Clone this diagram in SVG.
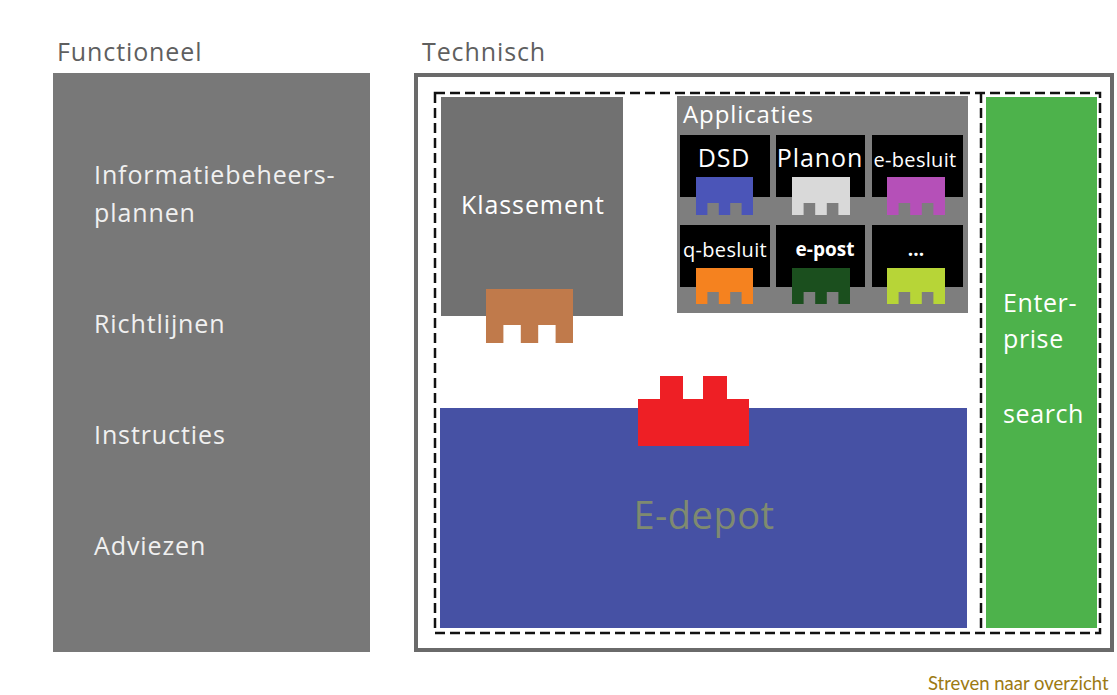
<svg xmlns="http://www.w3.org/2000/svg" width="1117" height="695" viewBox="0 0 1117 695">
<style>
text{font-family:"Open Sans","DejaVu Sans",sans-serif}
.hdr{fill:#5f5f5f;font-size:25px;letter-spacing:0.9px}
.lbl{fill:#f0f0f0;font-size:25px;letter-spacing:0.9px}
.app{fill:#ffffff;font-size:25px;letter-spacing:0.9px;text-anchor:middle}
.sm{fill:#ffffff;font-size:20px;letter-spacing:0.3px;text-anchor:middle}
.smb{fill:#ffffff;font-size:19px;font-weight:bold;text-anchor:middle}
.tile{fill:#000000}
.dash{fill:none;stroke:#111111;stroke-width:2.5;stroke-dasharray:10 5}
</style>
<rect width="1117" height="695" fill="#ffffff"/>

<g id="functioneel">
  <text class="hdr" x="57" y="61">Functioneel</text>
  <rect x="53" y="73" width="317" height="579" fill="#787878"/>
  <text class="lbl" x="94" y="184">Informatiebeheers-</text>
  <text class="lbl" x="94" y="222">plannen</text>
  <text class="lbl" x="94" y="333">Richtlijnen</text>
  <text class="lbl" x="94" y="444">Instructies</text>
  <text class="lbl" x="94" y="555">Adviezen</text>
</g>

<g id="technisch">
  <text class="hdr" x="422" y="61">Technisch</text>
  <rect x="416" y="75" width="696" height="575" fill="#ffffff" stroke="#6a6a6a" stroke-width="4"/>
</g>

<g id="klassement">
  <rect x="441" y="97" width="182" height="219" fill="#717171"/>
  <text class="app" x="533" y="214">Klassement</text>
  <path d="M486 289h87v54h-17.4v-18h-17.4v18h-17.4v-18h-17.4v18h-17.4z" fill="#c07a4b"/>
</g>

<g id="applicaties">
  <rect x="677" y="96" width="291" height="217" fill="#7e7e7e"/>
  <text x="683" y="123" fill="#ffffff" style="font-size:24px;letter-spacing:0.9px">Applicaties</text>
  <g id="app-dsd">
    <rect class="tile" x="680" y="135" width="90" height="62"/>
    <text class="app" x="724" y="167">DSD</text>
    <path d="M696 177h57v38h-11.4v-12h-11.4v12h-11.4v-12h-11.4v12h-11.4z" fill="#4b55b8"/>
  </g>
  <g id="app-planon">
    <rect class="tile" x="776" y="135" width="89" height="62"/>
    <text class="app" x="820" y="167">Planon</text>
    <path d="M792 177h58v38h-11.6v-12h-11.6v12h-11.6v-12h-11.6v12h-11.6z" fill="#d9d9d9"/>
  </g>
  <g id="app-ebesluit">
    <rect class="tile" x="872" y="135" width="91" height="62"/>
    <text class="sm" x="915" y="167">e-besluit</text>
    <path d="M887 177h58v38h-11.6v-12h-11.6v12h-11.6v-12h-11.6v12h-11.6z" fill="#b550b8"/>
  </g>
  <g id="app-qbesluit">
    <rect class="tile" x="680" y="225" width="90" height="62"/>
    <text class="sm" x="725" y="257">q-besluit</text>
    <path d="M696 268h57v36h-11.4v-12h-11.4v12h-11.4v-12h-11.4v12h-11.4z" fill="#f5821f"/>
  </g>
  <g id="app-epost">
    <rect class="tile" x="776" y="225" width="89" height="62"/>
    <text class="smb" x="825" y="256">e-post</text>
    <path d="M792 268h58v36h-11.6v-12h-11.6v12h-11.6v-12h-11.6v12h-11.6z" fill="#1b4f1e"/>
  </g>
  <g id="app-more">
    <rect class="tile" x="872" y="225" width="91" height="62"/>
    <text class="smb" x="916" y="256">...</text>
    <path d="M887 268h58v36h-11.6v-12h-11.6v12h-11.6v-12h-11.6v12h-11.6z" fill="#b7d537"/>
  </g>
</g>

<g id="edepot">
  <rect x="440" y="408" width="527" height="220" fill="#4651a4"/>
  <path d="M638 399h22v-23h23v23h20v-23h24v23h22v47h-111z" fill="#ee1f25"/>
  <text x="704" y="529" text-anchor="middle" fill="#7f8a70" style="font-size:38px;letter-spacing:0.5px">E-depot</text>
</g>

<g id="enterprise-search">
  <rect x="986" y="97" width="111" height="531" fill="#4db24b"/>
  <text class="lbl" x="1003" y="312" style="fill:#ffffff;letter-spacing:0.6px">Enter-</text>
  <text class="lbl" x="1003" y="348" style="fill:#ffffff;letter-spacing:0.6px">prise</text>
  <text class="lbl" x="1003" y="423" style="fill:#ffffff;letter-spacing:0.6px">search</text>
</g>

<g id="connectors">
  <rect class="dash" x="435" y="93" width="665" height="540"/>
  <line class="dash" x1="981" y1="93" x2="981" y2="633"/>
</g>

<text x="928" y="690" fill="#9c7a12" style="font-family:Lato,'Liberation Sans',sans-serif;font-size:18.5px">Streven naar overzicht</text>
</svg>
